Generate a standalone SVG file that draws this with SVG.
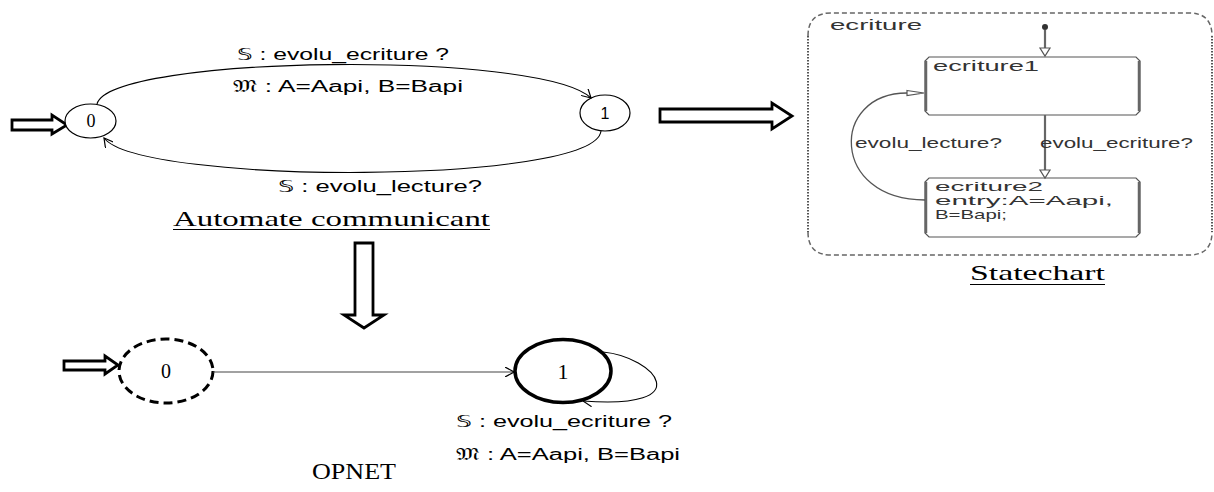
<svg xmlns="http://www.w3.org/2000/svg" width="1214" height="492" viewBox="0 0 1214 492">
<style>
.st{fill:#fff;stroke:#000;stroke-width:1.2}
.bold{fill:#fff;stroke:#000;stroke-width:3.5}
.dash{fill:#fff;stroke:#000;stroke-width:3;stroke-dasharray:9 5}
.blk{fill:#fff;stroke:#000;stroke-width:2.8;stroke-linejoin:miter}
.edge{fill:none;stroke:#000;stroke-width:1.1}
.sans{font-family:"Liberation Sans",Arial,sans-serif;font-size:16px;fill:#000}
.math{font-family:"DejaVu Sans","DejaVu Serif",serif}
.serif{font-family:"Liberation Serif","Times New Roman",serif;fill:#000}
.sc{font-family:"Liberation Sans",Arial,sans-serif;font-size:14px;fill:#333}
.sc2{font-family:"Liberation Sans",Arial,sans-serif;font-size:13px;fill:#333}
.scbox{fill:#fff;stroke:#555;stroke-width:1.2}
.scline{fill:none;stroke:#666;stroke-width:2.2}
</style>
<defs>
<marker id="v" viewBox="0 0 10 10" refX="9" refY="5" markerWidth="10" markerHeight="10" markerUnits="userSpaceOnUse" orient="auto">
<path d="M0,0 L9,5 L0,10" fill="none" stroke="#000" stroke-width="1.2"/>
</marker>
</defs>

<!-- Automate communicant -->
<g id="auto-init">
<polygon class="blk" points="12,120 52,120 52,115 67,125 52,134 52,130 12,130"/>
</g>
<g id="auto-s0">
<ellipse class="st" cx="90.5" cy="121" rx="25.5" ry="17"/>
<text class="serif" x="91" y="127" font-size="18" text-anchor="middle">0</text>
</g>
<g id="auto-s1">
<ellipse class="st" cx="605" cy="113" rx="25" ry="18"/>
<text class="sans" x="605" y="119" font-size="17" text-anchor="middle">1</text>
</g>
<g id="auto-connectors">
<path class="edge" d="M97,104 C110,55 540,50 591,98" marker-end="url(#v)"/>
<path class="edge" d="M601,131 C595,185 140,185 104,138" marker-end="url(#v)"/>
</g>
<g id="auto-labels">
<text class="sans" x="237" y="60" textLength="212" lengthAdjust="spacingAndGlyphs"><tspan class="math">𝕊</tspan> : evolu_ecriture ?</text>
<text class="sans" x="233" y="92" textLength="230" lengthAdjust="spacingAndGlyphs"><tspan class="math">𝔐</tspan> : A=Aapi, B=Bapi</text>
<text class="sans" x="278" y="192" textLength="204" lengthAdjust="spacingAndGlyphs"><tspan class="math">𝕊</tspan> : evolu_lecture?</text>
<text class="serif" x="173" y="226" font-size="22" textLength="317" lengthAdjust="spacingAndGlyphs">Automate communicant</text>
<line x1="173" y1="229.5" x2="490" y2="229.5" stroke="#000" stroke-width="1.2"/>
</g>

<!-- transformation arrows -->
<g id="arrow-right">
<polygon class="blk" points="660,109 772,109 772,103 792,116 772,129 772,122 660,122"/>
</g>
<g id="arrow-down">
<polygon class="blk" points="355,243 373,243 373,315 384,315 364,328 344,315 355,315"/>
</g>

<!-- Statechart -->
<g id="sc-container">
<path d="M808,36 Q808,13 831,13 L1189,13 Q1212,13 1212,36" fill="none" stroke="#666" stroke-width="1.5" stroke-dasharray="5 3"/>
<path d="M808,232 Q808,255 831,255 L1189,255 Q1212,255 1212,232" fill="none" stroke="#666" stroke-width="1.5" stroke-dasharray="5 3"/>
<line x1="808" y1="36" x2="808" y2="232" stroke="#555" stroke-width="2" stroke-dasharray="1.5 1.5"/>
<line x1="1212" y1="36" x2="1212" y2="232" stroke="#555" stroke-width="2" stroke-dasharray="1.5 1.5"/>
<text class="sc" x="830" y="30" textLength="92" lengthAdjust="spacingAndGlyphs">ecriture</text>
</g>
<g id="sc-initial">
<circle cx="1045" cy="27" r="3" fill="#333"/>
</g>
<g id="sc-ecriture1">
<polygon class="scbox" points="929,57 1136,57 1140,61 1140,111 1136,115 929,115 925,111 925,61"/>
<line x1="926" y1="61" x2="926" y2="111" stroke="#666" stroke-width="2.5"/>
<line x1="1139" y1="61" x2="1139" y2="111" stroke="#666" stroke-width="2.5"/>
<text class="sc" x="933" y="71" textLength="106" lengthAdjust="spacingAndGlyphs">ecriture1</text>
</g>
<g id="sc-ecriture2">
<polygon class="scbox" points="929,178 1136,178 1140,182 1140,233 1136,237 929,237 925,233 925,182"/>
<line x1="926" y1="182" x2="926" y2="233" stroke="#666" stroke-width="2.5"/>
<line x1="1139" y1="182" x2="1139" y2="233" stroke="#666" stroke-width="2.5"/>
<text class="sc2" x="935" y="191" textLength="108" lengthAdjust="spacingAndGlyphs">ecriture2</text>
<text class="sc2" x="935" y="205" textLength="178" lengthAdjust="spacingAndGlyphs">entry:A=Aapi,</text>
<text class="sc2" x="935" y="219" textLength="72" lengthAdjust="spacingAndGlyphs">B=Bapi;</text>
</g>
<g id="sc-connectors">
<line class="scline" x1="1045" y1="30" x2="1045" y2="48"/>
<polygon points="1040,48 1050,48 1045,56" fill="#fff" stroke="#555" stroke-width="1.2"/>
<line class="scline" x1="1045" y1="115" x2="1045" y2="170"/>
<polygon points="1040,170 1050,170 1045,178" fill="#fff" stroke="#555" stroke-width="1.2"/>
<path d="M925,200 C830,200 830,93 907,93" fill="none" stroke="#555" stroke-width="1.3"/>
<polygon points="907,90.5 924,93 907,95.5" fill="#fff" stroke="#555" stroke-width="1.2"/>
<text class="sc" x="1040" y="148" textLength="153" lengthAdjust="spacingAndGlyphs">evolu_ecriture?</text>
<text class="sc" x="855" y="148" textLength="147" lengthAdjust="spacingAndGlyphs">evolu_lecture?</text>
</g>
<g id="sc-caption">
<text class="serif" x="970" y="280" font-size="22" textLength="135" lengthAdjust="spacingAndGlyphs">Statechart</text>
<line x1="970" y1="284.5" x2="1105" y2="284.5" stroke="#000" stroke-width="1.2"/>
</g>

<!-- OPNET -->
<g id="op-init">
<polygon class="blk" points="64,361 105,361 105,356 118,365 105,374 105,370 64,370"/>
</g>
<g id="op-s0">
<ellipse class="dash" cx="166" cy="371" rx="47" ry="32"/>
<text class="serif" x="166" y="378" font-size="20" text-anchor="middle">0</text>
</g>
<g id="op-s1">
<ellipse class="bold" cx="563" cy="371" rx="48" ry="31.5"/>
<text class="serif" x="563" y="379" font-size="22" text-anchor="middle">1</text>
</g>
<g id="op-connectors">
<path d="M213,372 L514,372" fill="none" stroke="#444" stroke-width="1.1" marker-end="url(#v)"/>
<path class="edge" d="M603,352 C655,357 700,410 583,401" marker-end="url(#v)"/>
</g>
<g id="op-labels">
<text class="sans" x="456" y="427" textLength="216" lengthAdjust="spacingAndGlyphs"><tspan class="math">𝕊</tspan> : evolu_ecriture ?</text>
<text class="sans" x="456" y="460" textLength="224" lengthAdjust="spacingAndGlyphs"><tspan class="math">𝔐</tspan> : A=Aapi, B=Bapi</text>
<text class="serif" x="312" y="479" font-size="24" textLength="84" lengthAdjust="spacingAndGlyphs">OPNET</text>
</g>
</svg>
